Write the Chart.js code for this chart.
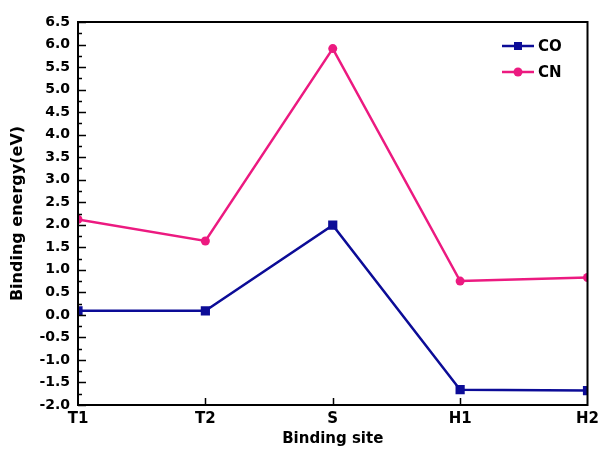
<!DOCTYPE html>
<html lang="en">
<head>
<meta charset="UTF-8">
<title>Binding energy</title>
<script src="https://cdn.jsdelivr.net/npm/chart.js"></script>
<style>
  html, body { margin: 0; padding: 0; background: #fff; }
  #wrap { width: 604px; height: 450px; }
</style>
</head>
<body>
<div id="wrap"><canvas id="bindChart"></canvas></div>
<script>
const sites = ['T1', 'T2', 'S', 'H1', 'H2'];
const coValues = [0.09, 0.09, 1.99, -1.66, -1.68];
const cnValues = [2.12, 1.64, 5.91, 0.75, 0.83];
const yMin = -2.0, yMax = 6.5, yStep = 0.5;

const FONT = 'DejaVu Sans';

// frame, inward ticks and the in-plot legend
const framePlugin = {
  id: 'frame',
  afterDraw(chart) {
    const ctx = chart.ctx, a = chart.chartArea;
    const ys = chart.scales.y, xs = chart.scales.x;
    ctx.save();
    ctx.strokeStyle = '#000';
    ctx.lineWidth = 2;
    ctx.strokeRect(a.left, a.top, a.right - a.left, a.bottom - a.top);

    ctx.lineWidth = 1.5;
    ctx.beginPath();
    for (let v = yMin; v <= yMax + 1e-9; v += yStep / 2) {
      const py = Math.round(ys.getPixelForValue(v)) + 0.5;
      const major = Math.abs(v / yStep - Math.round(v / yStep)) < 1e-6;
      ctx.moveTo(a.left, py);
      ctx.lineTo(a.left + (major ? 8 : 4), py);
    }
    for (let i = 1; i < sites.length - 1; i++) {
      const px = Math.round(xs.getPixelForValue(i)) + 0.5;
      ctx.moveTo(px, a.bottom);
      ctx.lineTo(px, a.bottom - 7);
    }
    ctx.stroke();

    // legend
    const items = chart.data.datasets;
    const lx = 502, ly = 46, gap = 26;
    items.forEach((ds, i) => {
      const y = ly + i * gap;
      ctx.strokeStyle = ds.borderColor;
      ctx.lineWidth = 2.5;
      ctx.beginPath();
      ctx.moveTo(lx, y);
      ctx.lineTo(lx + 32, y);
      ctx.stroke();
      ctx.fillStyle = ds.borderColor;
      if (ds.pointStyle === 'rect') {
        ctx.fillRect(lx + 12, y - 4, 8, 8);
      } else {
        ctx.beginPath();
        ctx.arc(lx + 16, y, 4.5, 0, Math.PI * 2);
        ctx.fill();
      }
      ctx.fillStyle = '#000';
      ctx.font = 'bold 15px ' + FONT;
      ctx.textBaseline = 'middle';
      ctx.textAlign = 'left';
      ctx.fillText(ds.label, lx + 36, y + 1);
    });
    ctx.restore();
  }
};

new Chart('bindChart', {
  type: 'line',
  data: {
    labels: sites,
    datasets: [{
      label: 'CO',
      data: coValues,
      borderColor: '#0c0c97',
      backgroundColor: '#0c0c97',
      borderWidth: 2.5,
      pointStyle: 'rect',
      pointRadius: 6.5,
      pointBorderWidth: 0,
      clip: 0,
      tension: 0
    }, {
      label: 'CN',
      data: cnValues,
      borderColor: '#ec1a80',
      backgroundColor: '#ec1a80',
      borderWidth: 2.5,
      pointStyle: 'circle',
      pointRadius: 4.5,
      pointBorderWidth: 0,
      clip: 0,
      tension: 0
    }]
  },
  options: {
    responsive: true,
    maintainAspectRatio: false,
    animation: false,
    layout: { padding: { top: 22, right: 12, left: 8, bottom: 0 } },
    plugins: {
      legend: { display: false },
      tooltip: { enabled: false }
    },
    scales: {
      x: {
        type: 'category',
        offset: false,
        grid: { display: false, drawTicks: false },
        border: { display: false },
        ticks: {
          color: '#000',
          padding: 5,
          maxRotation: 0,
          autoSkip: false,
          font: { family: FONT, weight: 'bold', size: 15 }
        },
        title: {
          display: true,
          text: 'Binding site',
          color: '#000',
          padding: { top: 0, bottom: 2 },
          font: { family: FONT, weight: 'bold', size: 15 }
        },
        afterFit(scale) { scale.height = 45; }
      },
      y: {
        min: yMin,
        max: yMax,
        grid: { display: false, drawTicks: false },
        border: { display: false },
        ticks: {
          stepSize: yStep,
          color: '#000',
          padding: 8,
          font: { family: FONT, weight: 'bold', size: 14 },
          callback: v => v.toFixed(1)
        },
        title: {
          display: true,
          text: 'Binding energy(eV)',
          color: '#000',
          padding: { top: 0, bottom: 2 },
          font: { family: FONT, weight: 'bold', size: 16 }
        },
        afterFit(scale) { scale.width = 70; }
      }
    }
  },
  plugins: [framePlugin]
});
</script>
</body>
</html>
